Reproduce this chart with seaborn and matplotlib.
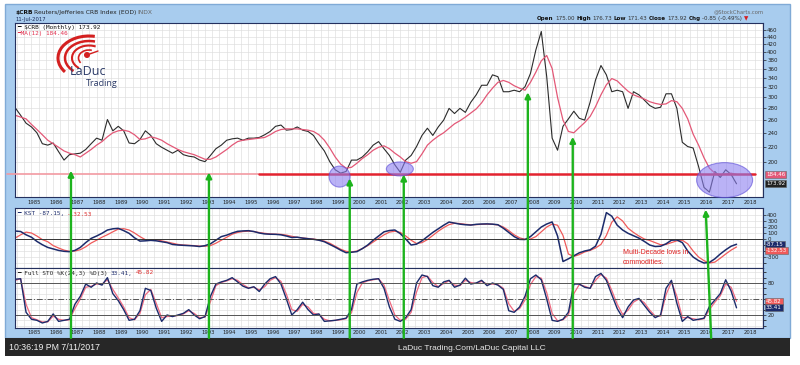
import numpy as np
import pandas as pd
import matplotlib
matplotlib.use("Agg")
import matplotlib.pyplot as plt
import matplotlib.transforms as mtransforms
from matplotlib.patches import Ellipse, Rectangle, Arc, Circle, ConnectionPatch
from matplotlib.ticker import FixedLocator, FixedFormatter, NullLocator
import seaborn as sns

sns.set_style("white")
plt.rcParams["font.family"] = ["DejaVu Sans"]

# quarterly readings, Apr 1984 -> Jul 2017 (one row per year)
crb = [
    281, 268, 255,
    249, 240, 224, 222,
    225, 213, 202, 209,
    210, 211, 216, 224,
    232, 229, 261, 243,
    250, 243, 225, 224,
    230, 243, 236, 224,
    219, 215, 211, 215,
    209, 207, 206, 202,
    200, 208, 217, 222,
    229, 231, 232, 229,
    232, 232, 233, 237,
    242, 250, 252, 244,
    245, 249, 244, 242,
    236, 224, 214, 200,
    190, 186, 188, 202,
    202, 206, 213, 222,
    227, 217, 208, 196,
    187, 202, 208, 220,
    236, 247, 236, 249,
    260, 280, 271, 280,
    273, 291, 305, 324,
    324, 346, 342, 311,
    311, 314, 311, 321,
    349, 405, 455, 342,
    232, 215, 250, 262,
    275, 263, 260, 291,
    335, 367, 346, 311,
    314, 311, 280, 311,
    305, 295, 285, 280,
    282, 307, 307, 280,
    226, 220, 218, 194,
    170, 165, 188, 181,
    190, 184.5, 173.92,
]

ma12 = [
    268, 265, 262,
    253, 245, 237, 229,
    224, 219, 214, 211,
    209, 206, 211, 216,
    222, 227, 234, 240,
    243, 244, 242, 237,
    230, 231, 234, 232,
    229, 224, 220, 216,
    213, 211, 209, 206,
    203, 203, 206, 211,
    216, 222, 227, 229,
    230, 231, 232, 233,
    237, 242, 245, 246,
    246, 246, 245, 244,
    242, 237, 229, 218,
    206, 197, 192, 193,
    198, 204, 209, 215,
    219, 221, 217, 211,
    206, 200, 198, 200,
    210, 222, 229, 235,
    240, 247, 254, 259,
    265, 272, 279, 290,
    305, 318, 330, 334,
    330, 323, 318, 314,
    330, 352, 378, 391,
    360, 300, 260, 242,
    240, 248, 256, 266,
    283, 305, 325, 338,
    333, 322, 312, 305,
    301, 297, 292, 289,
    287, 288, 294, 292,
    280, 262, 238, 222,
    205, 192, 186, 184,
    185, 186, 184.46,
]

kst = [
    133, 125, 70,
    30, -40, -95, -140,
    -165, -190, -205, -211,
    -190, -140, -60, 10,
    50, 95, 150, 170,
    178, 140, 95, 20,
    -35, -30, -22, -30,
    -45, -60, -90, -100,
    -105, -110, -115, -125,
    -110, -80, -20, 40,
    65, 100, 128, 135,
    139, 125, 100, 85,
    80, 78, 70, 50,
    25, 30, 15, 5,
    -5, -20, -45, -90,
    -135, -185, -228, -220,
    -210, -160, -100, -20,
    50, 120, 142, 150,
    90, 0, -100, -85,
    -30, 40, 110, 170,
    230, 283, 265, 248,
    238, 232, 245, 250,
    252, 248, 238, 180,
    110, 40, -6, -8,
    40, 120, 200, 250,
    285, 50, -375, -330,
    -280, -230, -200, -180,
    -120, 80, 440, 380,
    230, 150, 95, 55,
    15, -40, -100, -125,
    -120, -80, -20, -15,
    -60, -200, -300, -360,
    -400, -390, -330, -250,
    -180, -120, -87.15,
]

kst_signal = [
    17, 70, 115,
    100, 50, -10, -45,
    -110, -150, -185, -206,
    -200, -178, -130, -67,
    -20, 30, 72, 120,
    165, 172, 150, 100,
    40, -11, -15, -11,
    -30, -50, -70, -90,
    -100, -105, -110, -118,
    -120, -110, -70, -20,
    30, 80, 110, 125,
    130, 125, 108, 95,
    85, 80, 78, 65,
    45, 28, 18, 8,
    0, -15, -35, -70,
    -120, -170, -205, -215,
    -200, -160, -110, -50,
    10, 70, 115, 130,
    110, 50, -20, -75,
    -60, -10, 60, 130,
    190, 240, 262, 258,
    245, 238, 240, 245,
    248, 245, 235, 200,
    140, 70, 20, -5,
    0, 40, 120, 200,
    250, 230, 60, -250,
    -290, -260, -215, -190,
    -150, -90, 60, 280,
    370, 300, 180, 110,
    50, 0, -25, -60,
    -95, -90, -60, -30,
    -20, -80, -200, -300,
    -360, -400, -385, -320,
    -250, -185, -132.53,
]

sto_k = [
    87, 88, 25,
    12, 10, 5, 8,
    22, 8, 10, 12,
    40, 55, 78, 72,
    80, 76, 90, 60,
    47, 30, 10, 12,
    28, 70, 66, 33,
    8, 20, 17, 20,
    23, 30, 20, 13,
    17, 55, 78, 82,
    85, 90, 82, 74,
    70, 73, 64, 78,
    88, 92, 78, 50,
    20, 30, 44, 30,
    20, 22, 8, 9,
    10, 12, 14, 30,
    78, 82, 85, 87,
    88, 70, 35, 12,
    8, 15, 30, 80,
    95, 92, 75, 72,
    82, 85, 72, 76,
    89, 78, 80, 85,
    75, 80, 76, 68,
    28, 25, 35, 55,
    88, 95, 86, 50,
    10, 8, 12, 25,
    78, 78, 72, 70,
    92, 98, 85, 58,
    32, 15, 35, 48,
    51, 38, 25, 15,
    20, 70, 85, 42,
    8, 17, 10, 12,
    14, 36, 48, 60,
    86, 65, 33.41,
]

sto_d = [
    85, 88, 40,
    15, 11, 7, 7,
    18, 12, 10, 11,
    32, 50, 72, 74,
    78, 78, 86, 68,
    52, 35, 15, 11,
    23, 58, 68, 42,
    15, 17, 18, 19,
    22, 28, 23, 15,
    16, 45, 75, 81,
    84, 88, 85, 77,
    71, 72, 67, 73,
    85, 90, 83, 59,
    30, 27, 40, 35,
    23, 21, 12, 9,
    10, 11, 13, 24,
    62, 80, 84, 86,
    88, 76, 47, 20,
    10, 12, 25, 63,
    90, 93, 81, 73,
    79, 84, 76, 75,
    85, 81, 79, 83,
    78, 78, 77, 70,
    41, 27, 32, 48,
    77, 92, 89, 62,
    23, 9, 11, 20,
    60, 77, 74, 70,
    85, 96, 89, 66,
    40, 21, 29, 44,
    50, 43, 29, 18,
    18, 58, 82, 55,
    15, 15, 13, 11,
    13, 30, 44, 56,
    78, 72, 45.82,
]

years = list(range(1985, 2019))
year_labels = [str(y) for y in years]
price_ticks = [200, 220, 240, 260, 280, 300, 320, 340, 360, 380, 400, 420, 440, 460]
kst_ticks = [400, 300, 200, 100, 0, -300]

# annotations drawn on the chart by hand
support_level = 185
arrow_years = [1986.82, 1993.18, 1999.67, 2002.16, 2007.88, 2009.95]
arrow_tips = [189, 187, 180, 184.5, 310, 234]
circles = [(1999.2, 182, 21, 21), (2001.98, 191, 27, 14), (2016.95, 178, 56, 35)]

df = pd.DataFrame({"t": 1984.25 + 0.25 * np.arange(len(crb)), "crb": crb, "ma12": ma12,
                   "kst": kst, "kst_signal": kst_signal, "sto_k": sto_k, "sto_d": sto_d})

W, H = 800, 365
fig = plt.figure(figsize=(W / 100, H / 100), dpi=100)
fig.patch.set_facecolor("white")


def rect(l, t, r, b):
    return [l / W, 1 - b / H, (r - l) / W, (b - t) / H]


bg = fig.add_axes([0, 0, 1, 1], zorder=-5)
bg.set_xlim(0, W)
bg.set_ylim(H, 0)
bg.axis("off")
bg.add_patch(Rectangle((5, 4), 785, 334, fc="#a8ccee", ec="#80aad6", lw=1))
bg.add_patch(Rectangle((5, 338), 785, 18, fc="#272727", ec="none"))

ax_top = fig.add_axes(rect(15, 23, 763, 197))
ax_kst = fig.add_axes(rect(15, 208, 763, 268))
ax_sto = fig.add_axes(rect(15, 268, 763, 328))

navy = "#1c2b6b"
pink = "#e35877"
red = "#ef5a5a"
green = "#1db31d"

sns.lineplot(data=df, x="t", y="crb", ax=ax_top, color="#2b2b2b", lw=0.8)
sns.lineplot(data=df, x="t", y="ma12", ax=ax_top, color=pink, lw=0.9)
sns.lineplot(data=df, x="t", y="kst_signal", ax=ax_kst, color=red, lw=0.9)
sns.lineplot(data=df, x="t", y="kst", ax=ax_kst, color=navy, lw=1.1)
sns.lineplot(data=df, x="t", y="sto_d", ax=ax_sto, color="#f06a80", lw=0.9)
sns.lineplot(data=df, x="t", y="sto_k", ax=ax_sto, color=navy, lw=1.0)

grid_x = [y + k / 3 for y in range(1984, 2019) for k in range(3)]
for ax in (ax_top, ax_kst, ax_sto):
    ax.set_facecolor("white")
    for s in ax.spines.values():
        s.set_color("#24305e")
        s.set_linewidth(0.8)
    ax.set_xlim(1984.24, 2018.72)
    ax.xaxis.set_major_locator(FixedLocator([y + 0.12 for y in years]))
    ax.xaxis.set_major_formatter(FixedFormatter(year_labels))
    ax.xaxis.set_minor_locator(FixedLocator(grid_x))
    ax.yaxis.tick_right()
    ax.tick_params(axis="x", which="both", length=0, labelsize=3.8, pad=1.8, colors="#222")
    ax.tick_params(axis="y", which="major", length=2, width=0.5, labelsize=4, pad=1, colors="#222")
    ax.grid(False)
    ax.xaxis.grid(True, which="minor", color="#dddddd", lw=0.45)
    ax.yaxis.grid(True, which="major", color="#dddddd", lw=0.45)
    ax.set_axisbelow(True)
    ax.set_xlabel("")
    ax.set_ylabel("")

ax_top.set_yscale("log")
ax_top.set_ylim(160, 480)
ax_top.yaxis.set_major_locator(FixedLocator(price_ticks))
ax_top.yaxis.set_major_formatter(FixedFormatter([str(v) for v in price_ticks]))
ax_top.yaxis.set_minor_locator(NullLocator())

ax_kst.set_ylim(-483, 517)
ax_kst.yaxis.set_major_locator(FixedLocator(kst_ticks))
ax_kst.yaxis.set_major_formatter(FixedFormatter([str(v) for v in kst_ticks]))
ax_kst.yaxis.set_minor_locator(FixedLocator([-400, -200, -100]))
ax_kst.yaxis.grid(True, which="minor", color="#dddddd", lw=0.45)
ax_kst.tick_params(axis="x", labelbottom=False)
ax_kst.axhline(0, color="#333333", lw=0.7)

ax_sto.set_ylim(-4.4, 108.1)
ax_sto.yaxis.set_major_locator(FixedLocator([80, 20]))
ax_sto.yaxis.set_major_formatter(FixedFormatter(["80", "20"]))
ax_sto.yaxis.set_minor_locator(FixedLocator([0, 10, 30, 40, 50, 60, 70, 90, 100]))
ax_sto.yaxis.grid(True, which="minor", color="#dddddd", lw=0.45)
ax_sto.axhline(80, color="#555555", lw=0.7)
ax_sto.axhline(20, color="#555555", lw=0.7)
ax_sto.axhline(50, color="#555555", lw=0.7, ls=(0, (6, 2, 1, 2)))

# hand-drawn support line
ax_top.plot([1983.87, 1995.5], [support_level] * 2, color="#f29aa2", lw=1.2, clip_on=False, zorder=4)
ax_top.plot([1995.5, 2018.35], [support_level] * 2, color="#e3232f", lw=1.8, clip_on=False, zorder=4)


def value_box(ax, val, label, fc):
    tr = mtransforms.blended_transform_factory(ax.transAxes, ax.transData)
    ax.text(1.004, val, label, transform=tr, ha="left", va="center", fontsize=4, color="white",
            clip_on=False, zorder=6,
            bbox=dict(boxstyle="square,pad=0.2", fc=fc, ec="#666666", lw=0.4))


value_box(ax_top, 184.46, "184.46", pink)
value_box(ax_top, 173.92, "173.92", "#222222")
value_box(ax_kst, -87.15, "-87.15", navy)
value_box(ax_kst, -187, "-132.53", red)
value_box(ax_sto, 45.82, "45.82", red)
value_box(ax_sto, 33.41, "33.41", navy)

fg = fig.add_axes([0, 0, 1, 1], zorder=20)
fg.set_xlim(0, W)
fg.set_ylim(H, 0)
fg.axis("off")
fg.set_facecolor("none")
renderer = fig.canvas.get_renderer()


def runs(x, y, parts, size, family="DejaVu Sans", gap=1.5):
    for txt, color, weight in parts:
        t = fg.text(x, y, txt, fontsize=size, color=color, fontweight=weight, family=family,
                    va="center", ha="left", zorder=40)
        x += t.get_window_extent(renderer).width + gap
    return x


def fg_xy(ax, x, y):
    return fg.transData.inverted().transform(ax.transData.transform((x, y)))


# header
runs(15, 12.5, [("$CRB", "#111111", "bold"), ("Reuters/Jefferies CRB Index (EOD)", "#222222", "normal"),
                ("INDX", "#666666", "normal")], 4.3)
fg.text(15, 19.5, "11-Jul-2017", fontsize=3.8, color="#1a2a55", va="center")
fg.text(764, 12, "@StockCharts.com", fontsize=3.8, color="#666666", va="center", ha="right")
runs(537, 18.5, [("Open", "#111", "bold"), ("175.00", "#333", "normal"), ("High", "#111", "bold"),
                 ("176.73", "#333", "normal"), ("Low", "#111", "bold"), ("171.43", "#333", "normal"),
                 ("Close", "#111", "bold"), ("173.92", "#333", "normal"), ("Chg", "#111", "bold"),
                 ("-0.85 (-0.49%)", "#333", "normal"), ("▼", "#d42020", "normal")], 4.1)

# panel legends
mono = "DejaVu Sans Mono"
runs(17, 28, [("━ $CRB (Monthly) 173.92", "#111111", "normal")], 4.3, family=mono)
runs(17, 34, [("━MA(12) 184.46", "#e0304e", "normal")], 4.3, family=mono)
x = runs(17, 214, [("━ KST -87.15,", "#1c2b6b", "normal")], 4.3, family=mono, gap=3)
runs(x, 214, [("-132.53", "#e03030", "normal")], 4.3, family=mono)
x = runs(17, 273, [("━ Full STO %K(24,3) %D(3)", "#222222", "normal"), ("33.41,", "#1c2b6b", "normal")],
         4.3, family=mono, gap=3)
runs(x, 273, [("45.82", "#e03030", "normal")], 4.3, family=mono)

# LaDuc logo
logo_red = "#d42020"
for w, h, a1, a2, lw in [(62, 44, 150, 285, 2.2), (48, 34, 140, 290, 1.8),
                         (34, 25, 135, 300, 1.5), (21, 16, 150, 290, 1.2)]:
    fg.add_patch(Arc((89, 58), w, h, theta1=a1, theta2=a2, color=logo_red, lw=lw))
fg.add_patch(Circle((87, 55), 2.3, color=logo_red))
fg.plot([87, 98], [55, 51], color=logo_red, lw=1.0)
fg.text(70, 75, "LaDuc", fontsize=9, color="#2b3a67", family="Open Sans", va="baseline")
fg.text(86, 86, "Trading", fontsize=6.5, color="#2b3a67", family="Open Sans", va="baseline")

# purple highlights
for t, v, w, h in circles:
    cx, cy = fg_xy(ax_top, t, v)
    fg.add_patch(Ellipse((cx, cy), w, h, fc="#8c7ff0", ec="#5b4bd8", lw=0.8, alpha=0.6, zorder=25))

fg.text(623, 253, "Multi-Decade lows in", fontsize=5, color="#e02020", family="Liberation Sans", va="center")
fg.text(623, 263, "commodities.", fontsize=5, color="#e02020", family="Liberation Sans", va="center")

# green arrows
for yr, tip in zip(arrow_years, arrow_tips):
    fig.add_artist(ConnectionPatch(xyA=(yr, -23), coordsA=ax_sto.transData, xyB=(yr, tip),
                                   coordsB=ax_top.transData, arrowstyle="-|>", mutation_scale=8,
                                   lw=1.7, color=green, zorder=30))
fig.add_artist(ConnectionPatch(xyA=(2016.33, -23), coordsA=ax_sto.transData, xyB=(2016.08, 490),
                               coordsB=ax_kst.transData, arrowstyle="-|>", mutation_scale=8,
                               lw=1.7, color=green, zorder=30))

# bottom bar
fg.text(9, 347.5, "10:36:19 PM 7/11/2017", fontsize=6.3, color="#f2f2f2", family="Liberation Sans",
        va="center")
fg.text(472, 348, "LaDuc Trading.Com/LaDuc Capital LLC", fontsize=6, color="#e8e8e8",
        family="Liberation Sans", va="center", ha="center")

fig.savefig("out.png", dpi=100)
